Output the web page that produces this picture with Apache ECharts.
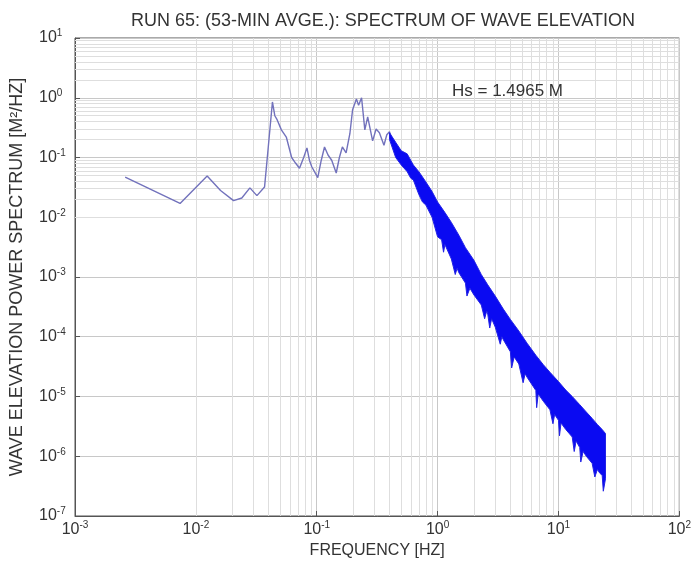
<!DOCTYPE html>
<html>
<head>
<meta charset="utf-8">
<script src="https://cdn.jsdelivr.net/npm/echarts@6/dist/echarts.min.js"></script>
<style>html,body{margin:0;padding:0;background:#fff;}#c{width:694px;height:572px;}</style>
</head>
<body>
<div id="c"></div>
<script>
// Sparse low-frequency part of the spectrum [Hz, m^2/Hz]
const lineFreq = [0.0026, 0.0074, 0.0124, 0.016, 0.0205, 0.024, 0.028, 0.032, 0.037, 0.039, 0.043, 0.045, 0.047, 0.051, 0.056, 0.062, 0.067, 0.072, 0.078, 0.083, 0.087, 0.091, 0.102, 0.109, 0.116, 0.124, 0.133, 0.145, 0.154, 0.163, 0.175, 0.188, 0.198, 0.213, 0.222, 0.235, 0.25, 0.264, 0.29, 0.31, 0.33, 0.36, 0.38, 0.4, 0.43];
const lineVals = [0.047, 0.017, 0.049, 0.028, 0.019, 0.021, 0.031, 0.023, 0.032, 0.1, 0.85, 0.5, 0.43, 0.29, 0.22, 0.1, 0.08, 0.066, 0.1, 0.145, 0.09, 0.07, 0.046, 0.09, 0.15, 0.11, 0.09, 0.055, 0.1, 0.15, 0.12, 0.25, 0.63, 0.95, 0.75, 1.0, 0.29, 0.48, 0.19, 0.3, 0.26, 0.16, 0.24, 0.27, 0.17];

// Noisy high-frequency band: upper and lower envelope
const bandUpperFreq = [0.4, 0.45, 0.5, 0.56, 0.63, 0.7, 0.8, 0.9, 1.0, 1.15, 1.3, 1.5, 1.7, 2.0, 2.3, 2.6, 3.0, 3.5, 4.0, 4.7, 5.5, 6.5, 7.5, 8.5, 10, 11.5, 13, 15, 17, 19, 21, 23, 24.5];
const bandUpper = [0.26, 0.18, 0.13, 0.115, 0.075, 0.058, 0.039, 0.027, 0.018, 0.012, 0.0082, 0.005, 0.0031, 0.0019, 1.1e-3, 7.4e-4, 4.8e-4, 2.9e-4, 1.95e-4, 1.25e-4, 7.8e-5, 4.9e-5, 3.4e-5, 2.55e-5, 1.78e-5, 1.28e-5, 1.0e-5, 7.3e-6, 5.5e-6, 4.3e-6, 3.4e-6, 2.8e-6, 2.4e-6];
const bandLowerFreq = [0.4, 0.45, 0.5, 0.56, 0.6, 0.63, 0.7, 0.75, 0.8, 0.9, 1.0, 1.08, 1.12, 1.15, 1.3, 1.4, 1.45, 1.5, 1.7, 1.75, 1.85, 2.0, 2.3, 2.45, 2.55, 2.6, 2.7, 2.8, 3.0, 3.3, 3.4, 3.5, 4.0, 4.1, 4.3, 4.7, 5.1, 5.3, 5.5, 6.5, 6.6, 6.8, 7.5, 8.5, 9.0, 9.3, 10, 10.2, 10.5, 11.5, 13, 13.5, 14, 15, 15.3, 16, 17, 19, 20, 21, 22, 23, 23.5, 24.5];
const bandLower = [0.2, 0.1, 0.075, 0.058, 0.045, 0.042, 0.024, 0.018, 0.016, 0.01, 0.0047, 0.0042, 0.0026, 0.0035, 0.002, 0.0011, 0.0014, 0.00118, 7.9e-4, 4.8e-4, 6.5e-4, 5e-4, 3.4e-4, 2e-4, 2.7e-4, 2.4e-4, 1.4e-4, 2.0e-4, 1.45e-4, 7.5e-5, 1.0e-4, 8.9e-5, 5.6e-5, 3.0e-5, 4.6e-5, 3.5e-5, 1.7e-5, 2.4e-5, 2.1e-5, 1.26e-5, 6.5e-6, 1.1e-5, 8.3e-6, 6e-6, 3.5e-6, 5e-6, 4e-6, 2.2e-6, 3.6e-6, 2.8e-6, 2.1e-6, 1.2e-6, 1.8e-6, 1.4e-6, 8e-7, 1.2e-6, 1e-6, 7.6e-7, 4.5e-7, 6e-7, 5.2e-7, 4.8e-7, 2.6e-7, 4.2e-7];

const titleText = 'RUN 65: (53-MIN AVGE.): SPECTRUM OF WAVE ELEVATION';
const xName = 'FREQUENCY [HZ]';
const yName = 'WAVE ELEVATION POWER SPECTRUM [M\u00B2/HZ]';
const noteText = 'Hs = 1.4965 M';

const FONT = '"Liberation Sans", Arial, sans-serif';

// minor grid (2..9 x 10^n) as axis decoration
const minorX = [], minorY = [];
for (let e = -3; e < 2; e++) for (let k = 2; k <= 9; k++) minorX.push({ xAxis: k * Math.pow(10, e) });
for (let e = -7; e < 1; e++) for (let k = 2; k <= 9; k++) minorY.push({ yAxis: k * Math.pow(10, e) });

function powLabel(v) {
  const e = Math.round(Math.log10(v));
  return '{b|10}{e|' + e + '}';
}
const richLab = {
  b: { fontSize: 16, fontFamily: FONT, color: '#333' },
  e: { fontSize: 10, fontFamily: FONT, color: '#333', verticalAlign: 'bottom', padding: [0, 0, 9, 0] }
};

const chart = echarts.init(document.getElementById('c'), null, { renderer: 'canvas' });
chart.setOption({
  animation: false,
  backgroundColor: '#fff',
  title: {
    text: titleText, left: 378, top: 7, textAlign: 'center',
    textStyle: { fontFamily: FONT, fontSize: 18, fontWeight: 'normal', color: '#333' }
  },
  graphic: [{
    type: 'text', left: 452, top: 83, z: 100,
    style: { text: noteText, fontFamily: FONT, fontSize: 17, fill: '#333' }
  }],
  grid: { left: 74, right: 13, top: 38, bottom: 56, show: true, borderColor: '#555', borderWidth: 1, backgroundColor: 'transparent' },
  xAxis: {
    type: 'log', logBase: 10, min: 0.001, max: 100, interval: 1,
    name: xName, nameLocation: 'middle', nameGap: 27,
    nameTextStyle: { fontFamily: FONT, fontSize: 16, color: '#333' },
    axisLine: { show: true, lineStyle: { color: '#555' } },
    axisTick: { show: true, inside: true, length: 5, lineStyle: { color: '#555' } },
    axisLabel: { formatter: powLabel, rich: richLab, margin: 4 },
    splitLine: { show: true, lineStyle: { color: '#c8c8c8', width: 1 } }
  },
  yAxis: {
    type: 'log', logBase: 10, min: 1e-7, max: 10, interval: 1,
    name: yName, nameLocation: 'middle', nameGap: 49, nameRotate: 90,
    nameTextStyle: { fontFamily: FONT, fontSize: 18, color: '#333' },
    axisLine: { show: true, lineStyle: { color: '#555' } },
    axisTick: { show: true, inside: true, length: 5, lineStyle: { color: '#555' } },
    axisLabel: { formatter: powLabel, rich: richLab, margin: 36, align: 'left' },
    splitLine: { show: true, lineStyle: { color: '#c8c8c8', width: 1 } }
  },
  series: [
    {
      type: 'line', name: 'grid', data: [], silent: true, z: 1,
      markLine: {
        silent: true, z: 1, symbol: ['none', 'none'], label: { show: false },
        lineStyle: { color: '#dedede', type: 'solid', width: 1 },
        emphasis: { disabled: true },
        data: minorX.concat(minorY)
      }
    },
    {
      type: 'line', name: 'spectrum',
      data: lineFreq.map((f, i) => [f, lineVals[i]]),
      showSymbol: false, symbol: 'none',
      lineStyle: { color: '#7272bc', width: 1.4 },
      z: 6
    },
    {
      type: 'custom', name: 'band',
      data: [[1, 1]],
      renderItem: function (params, api) {
        const pts = [];
        for (let i = 0; i < bandUpperFreq.length; i++) pts.push(api.coord([bandUpperFreq[i], bandUpper[i]]));
        for (let i = bandLowerFreq.length - 1; i >= 0; i--) pts.push(api.coord([bandLowerFreq[i], bandLower[i]]));
        return {
          type: 'polygon',
          shape: { points: pts },
          style: { fill: '#0a0af2', stroke: '#2222e6', lineWidth: 1 }
        };
      },
      z: 7
    }
  ]
});
</script>
</body>
</html>
